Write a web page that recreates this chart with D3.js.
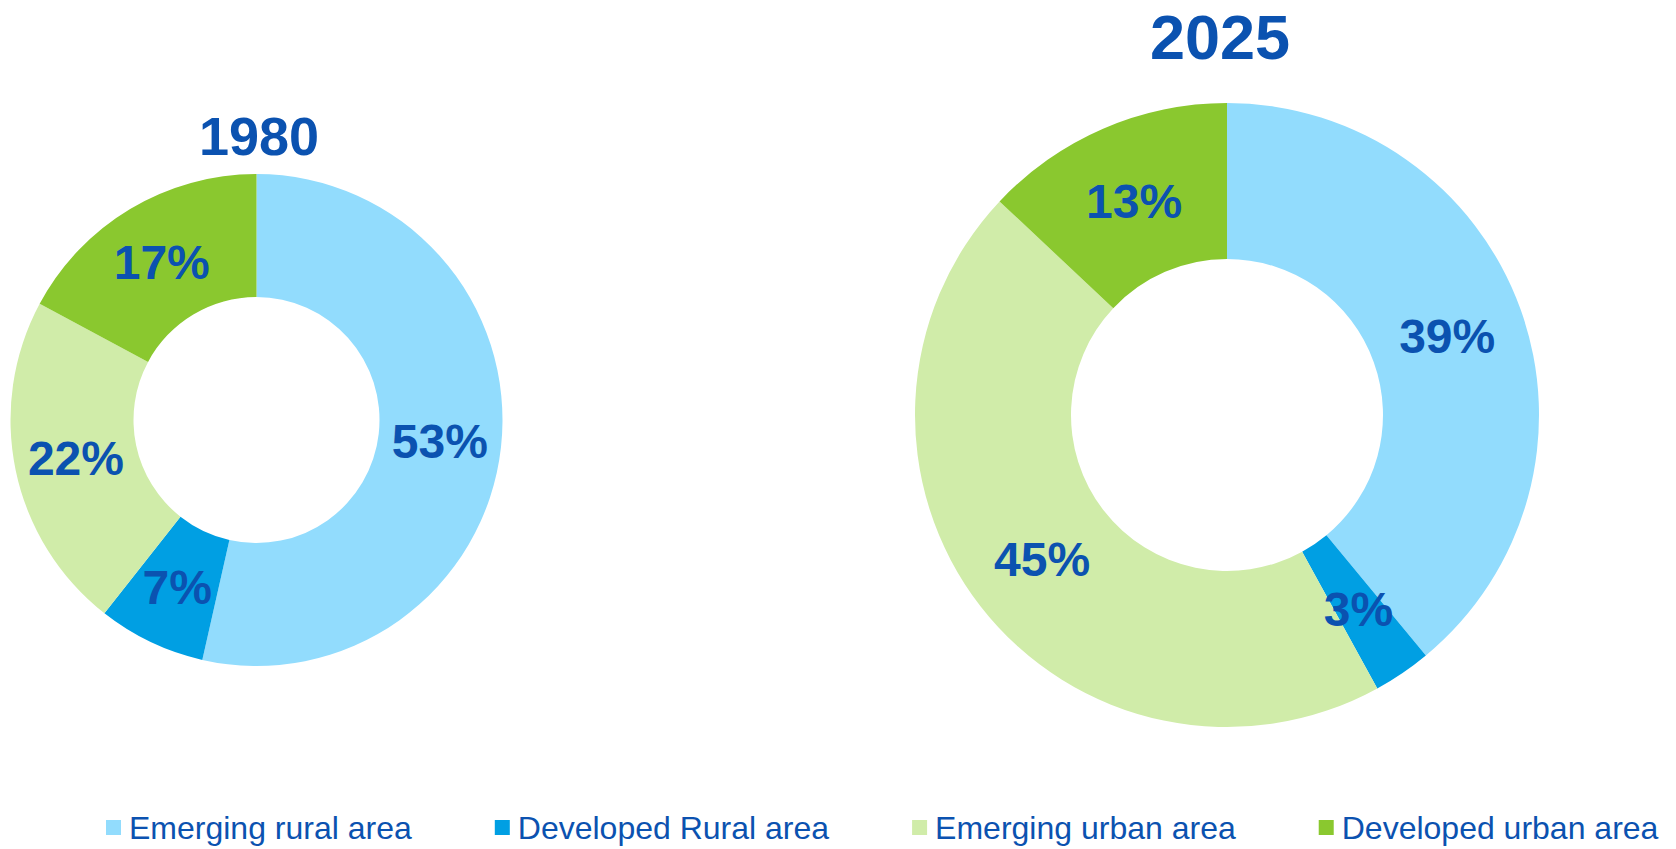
<!DOCTYPE html>
<html>
<head>
<meta charset="utf-8">
<script src="https://cdn.jsdelivr.net/npm/d3@7"></script>
<style>
  body { margin: 0; background: #fff; }
  svg { display: block; font-family: Arial, "Liberation Sans", sans-serif; }
</style>
</head>
<body>
<div id="chart"></div>
<script>
// categories and values
const categories = ["Emerging rural area", "Developed Rural area", "Emerging urban area", "Developed urban area"];
const colors = ["#92dcfd", "#009fe3", "#d0eca9", "#8ac82f"];
const years = ["1980", "2025"];
const values1980 = [53, 7, 22, 17];
const values2025 = [39, 3, 45, 13];

const width = 1676, height = 849;
const textColor = "#0b52b0";

const svg = d3.select("#chart").append("svg")
  .attr("width", width)
  .attr("height", height);

const color = d3.scaleOrdinal().domain(categories).range(colors);

// one donut per year
const donuts = [
  { year: years[0], values: values1980, cx: 256.5, cy: 420, r: 246, titleX: 259, titleY: 155, titleSize: 54 },
  { year: years[1], values: values2025, cx: 1227, cy: 415, r: 312, titleX: 1220, titleY: 59, titleSize: 63 }
];

const pie = d3.pie().sort(null).value(d => d.v);

donuts.forEach(dn => {
  const data = categories.map((c, i) => ({ cat: c, v: dn.values[i] }));
  const arc = d3.arc().innerRadius(dn.r * 0.5).outerRadius(dn.r);

  const g = svg.append("g").attr("transform", "translate(" + dn.cx + "," + dn.cy + ")");

  g.selectAll("path")
    .data(pie(data))
    .enter()
    .append("path")
    .attr("d", arc)
    .attr("fill", d => color(d.data.cat));

  // percentage labels at slice centroids
  g.selectAll("text.lbl")
    .data(pie(data))
    .enter()
    .append("text")
    .attr("class", "lbl")
    .attr("transform", d => "translate(" + arc.centroid(d) + ")")
    .attr("text-anchor", "middle")
    .attr("dy", "0.36em")
    .style("font-size", "48px")
    .style("font-weight", "bold")
    .attr("fill", textColor)
    .text(d => d.data.v + "%");

  svg.append("text")
    .attr("x", dn.titleX)
    .attr("y", dn.titleY)
    .attr("text-anchor", "middle")
    .style("font-size", dn.titleSize + "px")
    .style("font-weight", "bold")
    .attr("fill", textColor)
    .text(dn.year);
});

// legend
const legend = svg.append("g").attr("transform", "translate(106,828)");
let x = 0;
categories.forEach(c => {
  const item = legend.append("g").attr("transform", "translate(" + x + ",0)");
  item.append("rect")
    .attr("x", 0).attr("y", -8)
    .attr("width", 15).attr("height", 15)
    .attr("fill", color(c));
  const t = item.append("text")
    .attr("x", 23)
    .attr("dy", "0.35em")
    .style("font-size", "32px")
    .attr("fill", textColor)
    .text(c);
  x += 23 + t.node().getComputedTextLength() + 83;
});
</script>
</body>
</html>
